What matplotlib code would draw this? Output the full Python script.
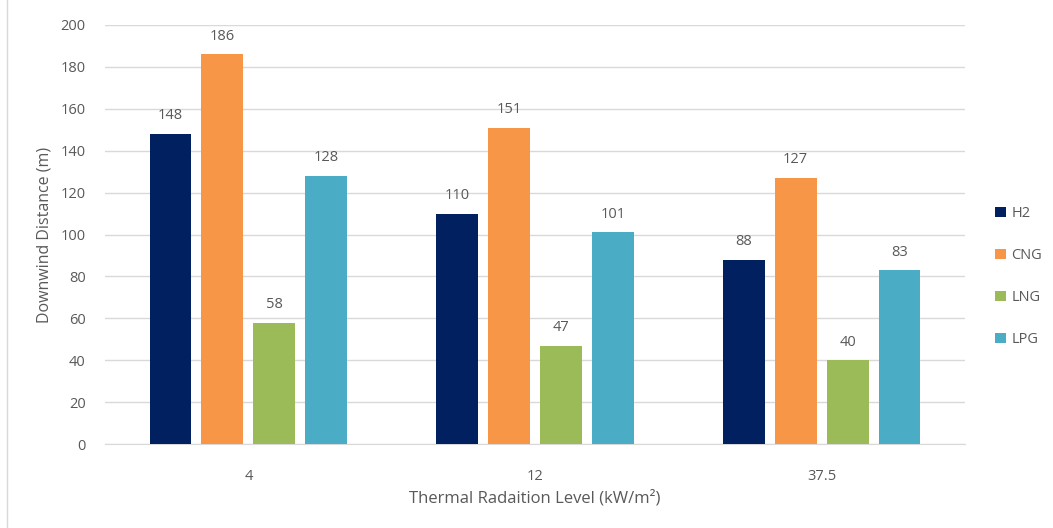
import numpy as np
import matplotlib
matplotlib.use("Agg")
from matplotlib import pyplot as plt

plt.rcParams['font.family'] = ['Open Sans', 'DejaVu Sans']

levels = ["4", "12", "37.5"]
fuels = ["H2", "CNG", "LNG", "LPG"]
h2 = [148, 110, 88]
cng = [186, 151, 127]
lng = [58, 47, 40]
lpg = [128, 101, 83]
colors = ["#002060", "#F79646", "#9BBB59", "#4BACC6"]

text_col = "#595959"
grid_col = "#D9D9D9"

fig = plt.figure(figsize=(10.53, 5.28), dpi=100)
ax = fig.add_axes([0.0997, 0.159, 0.8167, 0.7937])

x = np.arange(len(levels))
width = 0.146
step = 0.181
for i, (name, vals) in enumerate(zip(fuels, [h2, cng, lng, lpg])):
    pos = x + (i - 1.5) * step
    bars = ax.bar(pos, vals, width, color=colors[i], label=name, zorder=3)
    for b, v in zip(bars, vals):
        ax.text(b.get_x() + b.get_width() / 2, v + 5, str(v), ha="center",
                va="bottom", fontsize=10.5, color=text_col)

ax.set_xlim(-0.5, 2.5)
ax.set_ylim(0, 200)
ax.set_yticks(np.arange(0, 201, 20))
ax.set_xticks(x)
ax.set_xticklabels(levels)
ax.yaxis.grid(True, color=grid_col, linewidth=1, zorder=0)
for s in ["top", "right", "left"]:
    ax.spines[s].set_visible(False)
ax.spines["bottom"].set_color(grid_col)
ax.tick_params(axis="both", length=0, colors=text_col, labelsize=10.5)
ax.tick_params(axis="y", pad=14)
ax.tick_params(axis="x", pad=18)

ax.set_xlabel("Thermal Radaition Level (kW/m²)", color=text_col, fontsize=12, labelpad=4)
ax.set_ylabel("Downwind Distance (m)", color=text_col, fontsize=11.5, labelpad=6)

leg = ax.legend(loc="center left", bbox_to_anchor=(1.02, 0.40), frameon=False,
                fontsize=10.5, labelspacing=1.85, handlelength=0.7, handleheight=0.7,
                handletextpad=0.4)
for t in leg.get_texts():
    t.set_color(text_col)

fig.add_artist(plt.Line2D([0.007, 0.007], [0.0, 1.0], color=grid_col, linewidth=1))

fig.savefig("out.png", dpi=100)
